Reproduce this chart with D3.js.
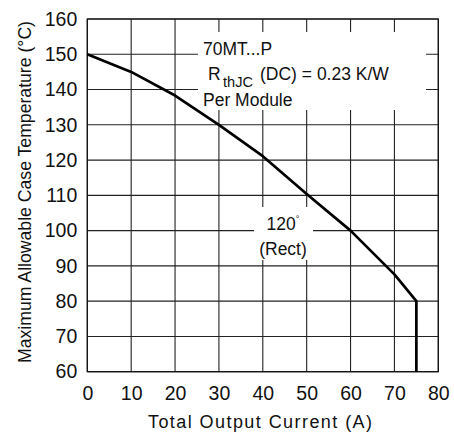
<!DOCTYPE html>
<html><head><meta charset="utf-8">
<script src="https://cdn.jsdelivr.net/npm/d3@7"></script>
<style>body{margin:0;background:#fff}svg{display:block}text{font-family:"Liberation Sans",Arial,sans-serif;fill:#111}</style>
</head><body>
<script>
const current = [0, 10, 20, 30, 40, 50, 60, 70, 75, 75];
const caseTemp = [150, 145, 138.3, 130, 121.1, 110.4, 100, 87.6, 80, 60];
const xTicks = [0, 10, 20, 30, 40, 50, 60, 70, 80];
const yTicks = [60, 70, 80, 90, 100, 110, 120, 130, 140, 150, 160];

const W = 454, H = 432;
const m = {l: 87.3, r: 454 - 438.3, t: 19, b: 432 - 371.7};
const svg = d3.select("body").append("svg").attr("width", W).attr("height", H);
const x = d3.scaleLinear().domain([0, 80]).range([m.l, W - m.r]);
const y = d3.scaleLinear().domain([60, 160]).range([H - m.b, m.t]);

// grid
const g = svg.append("g");
g.selectAll("line.v").data(xTicks).join("line")
  .attr("x1", d => x(d)).attr("x2", d => x(d)).attr("y1", y(60)).attr("y2", y(160))
  .attr("stroke", "#222").attr("stroke-width", 1.1);
g.selectAll("line.h").data(yTicks).join("line")
  .attr("y1", d => y(d)).attr("y2", d => y(d)).attr("x1", x(0)).attr("x2", x(80))
  .attr("stroke", "#222").attr("stroke-width", 1.1);

// annotation backgrounds
svg.append("rect").attr("x", 198).attr("y", 32).attr("width", 228).attr("height", 78).attr("fill", "#fff");
svg.append("rect").attr("x", 254).attr("y", 207).attr("width", 59).attr("height", 53).attr("fill", "#fff");

// frame
svg.append("rect").attr("x", x(0)).attr("y", y(160)).attr("width", x(80) - x(0)).attr("height", y(60) - y(160))
  .attr("fill", "none").attr("stroke", "#111").attr("stroke-width", 1.2);

// curve
const pts = current.map((c, i) => [c, caseTemp[i]]);
svg.append("path").datum(pts)
  .attr("d", d3.line().x(d => x(d[0])).y(d => y(d[1])))
  .attr("fill", "none").attr("stroke", "#000").attr("stroke-width", 2.7).attr("stroke-linejoin", "round");

// axes tick labels
const xa = d3.axisBottom(x).tickValues(xTicks).tickSize(0).tickPadding(14);
const gx = svg.append("g").attr("transform", `translate(0,${y(60)})`).call(xa);
gx.select(".domain").remove();
gx.selectAll("text").attr("font-size", 19.5).attr("font-family", '"Liberation Sans",Arial,sans-serif').attr("fill", "#111");
const ya = d3.axisLeft(y).tickValues(yTicks).tickSize(0).tickPadding(10);
const gy = svg.append("g").attr("transform", `translate(${x(0)},0)`).call(ya);
gy.select(".domain").remove();
gy.selectAll("text").attr("font-size", 19.5).attr("font-family", '"Liberation Sans",Arial,sans-serif').attr("fill", "#111");

// axis titles
svg.append("text").attr("x", (148 + 372) / 2).attr("y", 428).attr("text-anchor", "middle")
  .attr("font-size", 18).attr("textLength", 224).attr("lengthAdjust", "spacing")
  .text("Total Output Current (A)");
svg.append("text").attr("transform", `translate(31,${(21 + 363) / 2}) rotate(-90)`).attr("text-anchor", "middle")
  .attr("font-size", 18.5).attr("textLength", 342).attr("lengthAdjust", "spacingAndGlyphs")
  .text("Maximum Allowable Case Temperature (°C)");

// annotation texts
const fs = 17.5;
svg.append("text").attr("x", 203).attr("y", 55).attr("font-size", fs).text("70MT...P");
svg.append("text").attr("x", 208).attr("y", 80).attr("font-size", fs).text("R");
svg.append("text").attr("x", 223).attr("y", 86.5).attr("font-size", 14).attr("textLength", 30).attr("lengthAdjust", "spacingAndGlyphs").text("thJC");
svg.append("text").attr("x", 260).attr("y", 80).attr("font-size", fs).text("(DC) = 0.23 K/W");
svg.append("text").attr("x", 203).attr("y", 105.5).attr("font-size", fs).text("Per Module");
const t3 = svg.append("text").attr("x", 283).attr("y", 230).attr("text-anchor", "middle").attr("font-size", fs);
t3.append("tspan").text("120");
t3.append("tspan").attr("dy", -8).attr("font-size", 9).text("°");
svg.append("text").attr("x", 283).attr("y", 255).attr("text-anchor", "middle").attr("font-size", fs).text("(Rect)");
</script>
</body></html>
